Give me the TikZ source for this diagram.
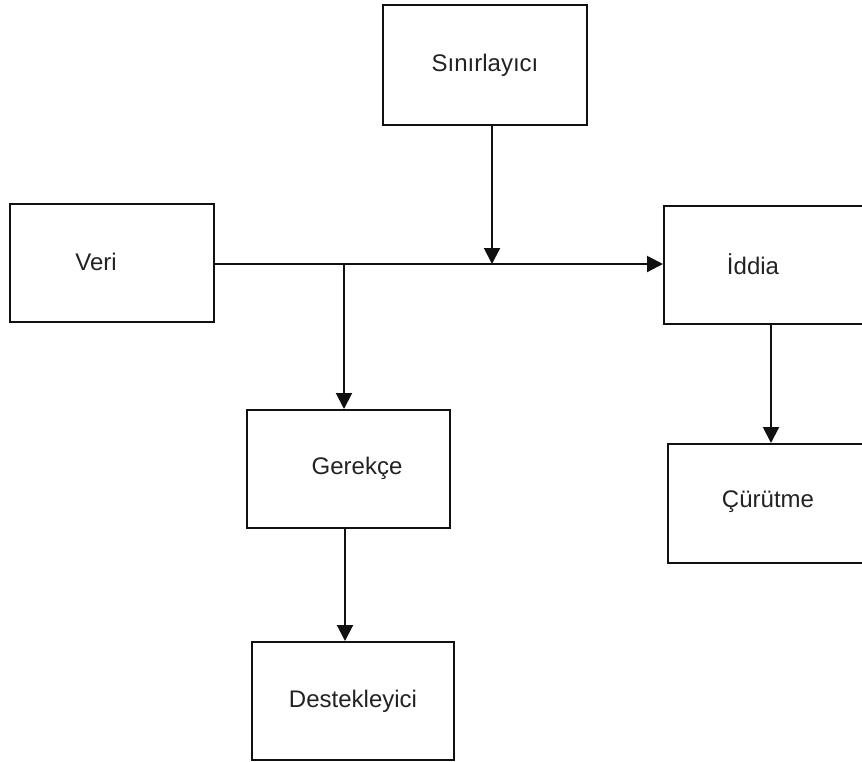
\documentclass[tikz,border=0pt]{standalone}
\usepackage{fontspec}
\setmainfont{Liberation Sans}
\usetikzlibrary{arrows.meta}
\definecolor{ink}{HTML}{111111}
\definecolor{txt}{HTML}{222222}
\begin{document}
\begin{tikzpicture}[x=1pt,y=-1pt,
  box/.style={draw=ink,line width=2pt,minimum width=#1,minimum height=118pt,
    inner sep=0pt,text=txt,font=\fontsize{24}{28}\selectfont},
  box/.default=204pt,
  lbl/.style={text=txt,font=\fontsize{24}{28}\selectfont},
  conn/.style={draw=ink,line width=2pt},
  arr/.style={conn,-{Triangle[length=16pt,width=16pt]}}]
\useasboundingbox (0,0) rectangle (862,761);
\clip (0,0) rectangle (862,761);

% boxes
\node[box,minimum height=120pt] (sin) at (485,65) {Sınırlayıcı};
\node[box] (veri) at (112,263) {};
\node[lbl] (veritxt) at (96,262) {Veri};
\node[box] (iddia) at (766,265) {};
\node[lbl] (iddiatxt) at (753,264) {İddia};
\node[box=203pt] (gerekce) at (348.5,469) {};
\node[lbl] (gerekcetxt) at (357,468) {Gerekçe};
\node[box,minimum height=119pt] (curutme) at (770,503.5) {};
\node[lbl] (curutmetxt) at (768,502) {Çürütme};
\node[box=202pt] (destek) at (353,701) {Destekleyici};

% junction points on the main line
\coordinate (hub) at (492,264);
\coordinate (branch) at (344,264);
\coordinate (down1) at (345,0);
\coordinate (down2) at (771,0);

% connectors
\draw[arr] (veri.east |- hub) -- (iddia.west |- hub);
\draw[arr] (sin.south -| hub) -- (hub);
\draw[arr] (branch) -- (branch |- gerekce.north);
\draw[arr] (gerekce.south -| down1) -- (destek.north -| down1);
\draw[arr] (iddia.south -| down2) -- (curutme.north -| down2);
\end{tikzpicture}
\end{document}
